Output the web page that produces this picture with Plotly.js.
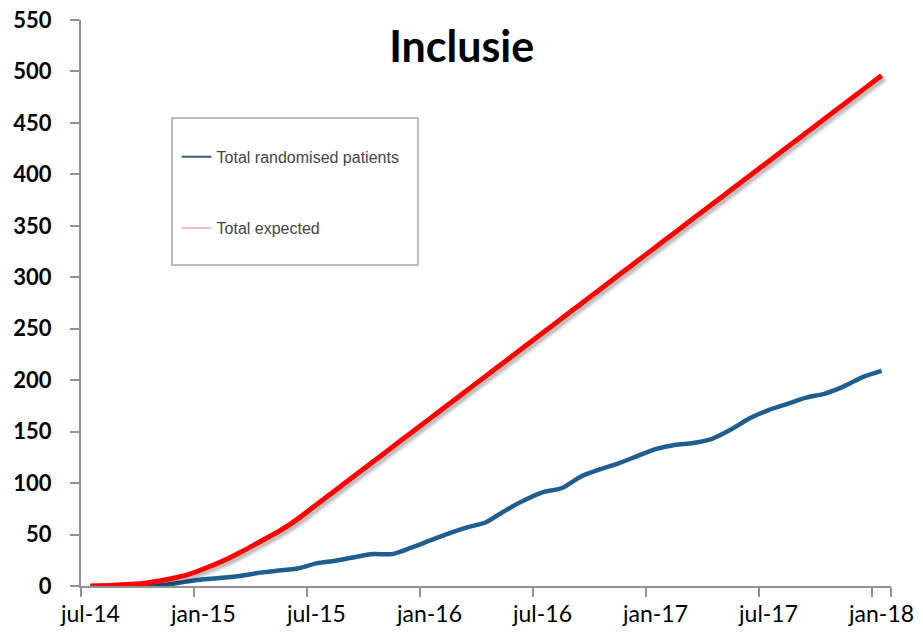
<!DOCTYPE html>
<html>
<head>
<meta charset="utf-8">
<script src="https://cdn.plot.ly/plotly-3.0.1.min.js"></script>
<style>
  html, body { margin: 0; padding: 0; background: #fff; }
  #chart { width: 923px; height: 637px; }
</style>
</head>
<body>
<div id="chart"></div>
<script>
// Month axis: jul-14 .. jan-18 (Dutch abbreviations)
const monthNames = ['jan', 'feb', 'mrt', 'apr', 'mei', 'jun', 'jul', 'aug', 'sep', 'okt', 'nov', 'dec'];
const startYear = 2014, startMonth = 6, monthCount = 43;
const months = [];
for (let i = 0; i < monthCount; i++) {
  const m = (startMonth + i) % 12;
  const y = startYear + Math.floor((startMonth + i) / 12);
  months.push(monthNames[m] + '-' + String(y).slice(2));
}

// Labelled months on the x axis
const tickMonths = ['jul-14', 'jan-15', 'jul-15', 'jan-16', 'jul-16', 'jan-17', 'jul-17', 'jan-18'];

// Cumulative randomised patients per month
const randomised = [0, 0, 0, 0, 1, 4, 6.5, 8, 10, 13, 15, 17, 22, 24.5, 28, 31, 31, 37,
  44, 51, 57, 62, 73, 83, 91, 95, 106, 113, 119, 126, 133, 137, 139, 143, 152, 163,
  171, 177, 183, 187, 194, 203, 209];

// Cumulative expected inclusions per month
const expected = [0, 0.5, 1.5, 3, 6, 10, 16.5, 24, 33, 43, 53, 65, 79, 92.9, 106.8,
  120.7, 134.6, 148.5, 162.4, 176.3, 190.2, 204.1, 218, 231.9, 245.8, 259.7, 273.6,
  287.5, 301.4, 315.3, 329.2, 343.1, 357, 370.9, 384.8, 398.7, 412.6, 426.5, 440.4,
  454.3, 468.2, 482.1, 496];

const yTicks = [0, 50, 100, 150, 200, 250, 300, 350, 400, 450, 500, 550];

const axisGrey = '#929292';

const traces = [
  {
    x: months, y: randomised, type: 'scatter', mode: 'lines',
    line: { color: '#1f5f8f', width: 4.5, shape: 'spline', smoothing: 0.8 },
    cliponaxis: false, showlegend: false, hoverinfo: 'skip'
  },
  {
    x: months, y: expected, type: 'scatter', mode: 'lines',
    line: { color: '#ff0000', width: 5, shape: 'spline', smoothing: 0.8 },
    cliponaxis: false, showlegend: false, hoverinfo: 'skip'
  },
  // legend entries with thin line samples
  {
    x: [null], y: [null], type: 'scatter', mode: 'lines',
    name: 'Total randomised patients', legend: 'legend',
    line: { color: '#35607f', width: 2 }
  },
  {
    x: [null], y: [null], type: 'scatter', mode: 'lines',
    name: 'Total expected', legend: 'legend2',
    line: { color: '#f2a3b3', width: 1.5 }
  }
];

const legendFont = { family: 'Liberation Sans, Arial, sans-serif', size: 16, color: '#454545' };

const layout = {
  width: 923, height: 637,
  margin: { l: 81, r: 32, t: 20, b: 51, pad: 0 },
  paper_bgcolor: '#ffffff', plot_bgcolor: '#ffffff',
  font: { family: 'Lato, sans-serif', color: '#000' },
  title: {
    text: 'Inclusie',
    font: { family: 'Lato, sans-serif', size: 43, weight: 'bold', color: '#000' },
    xref: 'paper', x: 0.47, xanchor: 'center',
    yref: 'container', y: 0.926, yanchor: 'middle'
  },
  xaxis: {
    type: 'category', categoryorder: 'array', categoryarray: months,
    range: [-0.5, monthCount - 0.5],
    tickmode: 'array', tickvals: tickMonths, ticktext: tickMonths,
    tickson: 'boundaries', tickangle: 0,
    ticks: 'outside', ticklen: 9, tickwidth: 2, tickcolor: axisGrey,
    showline: true, linecolor: axisGrey, linewidth: 2,
    showgrid: false, zeroline: false,
    tickfont: { family: 'Lato, sans-serif', size: 23, color: '#000' },
    ticklabelstandoff: 6
  },
  yaxis: {
    range: [0, 550],
    tickmode: 'array', tickvals: yTicks,
    ticks: 'outside', ticklen: 9, tickwidth: 2, tickcolor: axisGrey,
    showline: true, linecolor: axisGrey, linewidth: 2,
    showgrid: false, zeroline: false,
    tickfont: { family: 'Lato, sans-serif', size: 22, weight: 'bold', color: '#000' },
    ticklabelstandoff: 14
  },
  legend: {
    x: 0.118, xanchor: 'left', y: 0.758, yanchor: 'middle',
    bgcolor: 'rgba(0,0,0,0)', borderwidth: 0, font: legendFont, itemwidth: 30
  },
  legend2: {
    x: 0.118, xanchor: 'left', y: 0.6325, yanchor: 'middle',
    bgcolor: 'rgba(0,0,0,0)', borderwidth: 0, font: legendFont, itemwidth: 30
  },
  shapes: [
    {
      type: 'rect', xref: 'paper', yref: 'paper',
      x0: 0.1123, x1: 0.416, y0: 0.567, y1: 0.827,
      line: { color: '#a6a6a6', width: 1.5 }, fillcolor: '#ffffff', layer: 'below'
    }
  ],
  showlegend: true
};

Plotly.newPlot('chart', traces, layout, { displayModeBar: false, staticPlot: true }).then(function (gd) {
  // soft drop shadow under the expected line
  const svg = gd.querySelector('.main-svg');
  const ns = 'http://www.w3.org/2000/svg';
  let defs = svg.querySelector('defs');
  if (!defs) { defs = document.createElementNS(ns, 'defs'); svg.insertBefore(defs, svg.firstChild); }
  const filter = document.createElementNS(ns, 'filter');
  filter.setAttribute('id', 'line-shadow');
  filter.setAttribute('x', '-10%'); filter.setAttribute('y', '-10%');
  filter.setAttribute('width', '120%'); filter.setAttribute('height', '120%');
  const drop = document.createElementNS(ns, 'feDropShadow');
  drop.setAttribute('dx', '3'); drop.setAttribute('dy', '3');
  drop.setAttribute('stdDeviation', '1.5');
  drop.setAttribute('flood-color', '#000'); drop.setAttribute('flood-opacity', '0.28');
  filter.appendChild(drop);
  defs.appendChild(filter);
  const lines = gd.querySelectorAll('.scatterlayer .trace');
  if (lines[1]) {
    const path = lines[1].querySelector('path.js-line');
    if (path) path.setAttribute('filter', 'url(#line-shadow)');
  }
});
</script>
</body>
</html>
